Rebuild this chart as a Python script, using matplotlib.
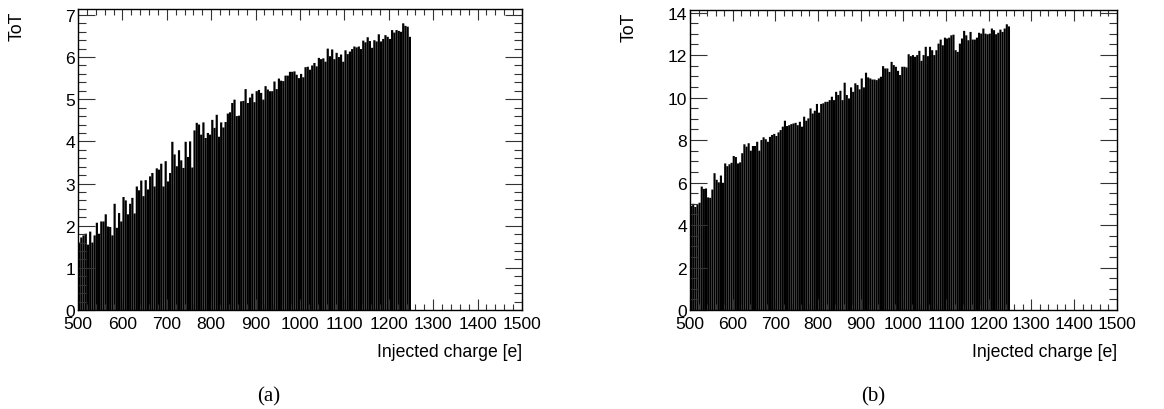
import numpy as np
import matplotlib
matplotlib.use("Agg")
import matplotlib.pyplot as plt
from matplotlib.ticker import MultipleLocator

# ---------------- data ----------------
bin_start = 500.0
bin_width = 5.0
x_range = (500, 1500)

tot_a = [
    1.6, 1.72, 1.77, 1.81, 1.55, 1.86, 1.6, 1.77, 2.07, 1.81,
    2.1, 2.1, 2.27, 1.98, 1.97, 1.77, 2.52, 1.95, 2.3, 2.1,
    2.68, 2.6, 2.27, 2.52, 2.66, 2.29,
    2.93, 2.84, 3.07, 2.7, 3.08, 2.86, 3.17, 3.25, 2.93, 3.36,
    3.33, 3.47, 2.93, 3.53, 3.05, 3.25, 3.99, 3.69, 3.41, 3.79,
    3.55, 3.37, 3.99, 3.63, 4.0, 3.38, 4.26, 4.44, 4.4, 4.16,
    4.45, 4.08, 4.2, 4.16, 4.51, 4.32, 4.63, 4.11, 4.45, 4.33,
    4.46, 4.66, 4.69, 4.91, 4.99, 4.6, 4.61, 4.95, 4.96, 5.24,
    4.91, 5.04, 5.13, 4.93, 5.19, 5.22, 5.15, 4.99, 5.31, 5.23,
    5.19, 5.19, 5.42, 5.24, 5.49, 5.44, 5.43, 5.56, 5.56, 5.65,
    5.65, 5.66, 5.58, 5.5,
    5.6, 5.52, 5.76, 5.77, 5.7, 5.8, 5.86, 5.78, 5.98, 5.95,
    5.97, 5.89, 6.2, 6.02, 6.18, 5.95, 6.1, 6.0, 6.06, 5.89,
    6.16, 6.07, 6.13, 6.19, 6.25, 6.23, 6.25, 6.19, 6.39, 6.35,
    6.47, 6.38, 6.22, 6.4, 6.37, 6.54, 6.37, 6.43, 6.52, 6.48,
    6.43, 6.64, 6.58, 6.64, 6.62, 6.6, 6.8, 6.74, 6.72, 6.48,
]

tot_b = [
    4.9, 5.0, 4.85, 4.95, 5.05,
    5.81, 5.7, 5.72, 5.3, 5.28, 5.67, 6.44, 6.13, 6.01, 6.33,
    5.99, 6.9, 6.77, 6.86, 6.93, 7.25, 7.2, 6.9, 6.95, 7.38,
    7.8, 7.69, 7.85, 7.5, 7.72, 7.72, 7.92, 7.5, 8.0, 8.13,
    8.04, 7.92, 8.15, 8.24, 8.29, 8.19, 8.36, 8.47, 8.63, 8.91,
    8.66, 8.7, 8.75, 8.78, 8.81, 8.7, 8.86, 8.63, 9.1, 8.91,
    9.02, 9.49, 9.25, 9.38, 9.7, 9.29, 9.7, 9.73, 9.8, 9.8,
    9.88, 10.04, 9.88, 10.27, 10.12, 10.32, 9.88, 10.7, 10.12, 9.96,
    10.48, 10.27, 10.67, 10.59, 10.39, 10.9, 10.48, 11.17, 10.95, 10.9,
    10.85, 10.85, 10.82, 10.9, 10.98, 11.48, 11.37, 11.37, 11.21, 11.68,
    11.53, 11.45, 11.26, 11.06, 11.45, 11.45, 11.42, 12.04, 11.95, 12.0,
    11.92, 12.0, 12.2, 11.73, 12.0, 12.39, 11.95, 12.39, 12.23, 12.0,
    12.23, 12.54, 12.73, 12.46, 12.82, 12.78, 12.82, 12.93, 12.96, 12.23,
    12.15, 12.54, 12.78, 13.14, 12.93, 12.7, 13.09, 12.73, 12.73, 12.82,
    13.05, 13.01, 13.25, 13.01, 12.98, 13.01, 13.25, 13.17, 12.98, 13.05,
    13.2, 13.09, 13.25, 13.45, 13.35,
]

x_label = "Injected charge [e]"
y_label = "ToT"
captions = ["(a)", "(b)"]
x_major = 100
x_minor = 20
y_majors = [1, 2]
y_minors = [0.2, 0.5]

# ---------------- figure ----------------
W, H = 1164, 410
fig = plt.figure(figsize=(W / 100, H / 100), dpi=100)
plt.rcParams["font.family"] = ["Liberation Sans", "DejaVu Sans"]

def fx(px):
    return px / W

def fy(py):
    return 1 - py / H

panels = [
    dict(vals=tot_a, rect=(78, 10, 522, 311), ymaj=y_majors[0], ymin=y_minors[0],
         cap=captions[0], capx=269),
    dict(vals=tot_b, rect=(690, 11, 1116.7, 311), ymaj=y_majors[1], ymin=y_minors[1],
         cap=captions[1], capx=873),
]

tick_fs = 12.6
for p in panels:
    l, t, r, b = p["rect"]
    ax = fig.add_axes([fx(l), fy(b), fx(r - l), (b - t) / H])
    vals = np.asarray(p["vals"])
    centers = bin_start + bin_width * (np.arange(len(vals)) + 0.5)
    bars = ax.bar(centers, vals, width=bin_width * 0.99, color="black",
                  edgecolor="none", linewidth=0)
    for rect in bars:
        rect.set_snap(False)
    ax.set_xlim(*x_range)
    ax.set_ylim(0, vals.max() * 1.05)
    ax.xaxis.set_major_locator(MultipleLocator(x_major))
    ax.xaxis.set_minor_locator(MultipleLocator(x_minor))
    ax.yaxis.set_major_locator(MultipleLocator(p["ymaj"]))
    ax.yaxis.set_minor_locator(MultipleLocator(p["ymin"]))
    ax.tick_params(axis="both", which="both", direction="in",
                   top=True, right=True, labelsize=tick_fs, width=0.8,
                   color="#333333")
    ax.tick_params(axis="x", which="major", length=8, pad=4)
    ax.tick_params(axis="x", which="minor", length=4)
    ax.tick_params(axis="y", which="major", length=12, pad=2)
    ax.tick_params(axis="y", which="minor", length=6)
    for s in ax.spines.values():
        s.set_linewidth(1.0)
        s.set_color("black")
    fig.text(fx(r), fy(353), x_label, ha="right", va="center", fontsize=12.7)
    fig.text(fx(l - 60.5), fy(t + 2), y_label, ha="center", va="top",
             rotation=90, fontsize=12.7)
    fig.text(fx(p["capx"]), fy(397), p["cap"], ha="center", va="center",
             fontsize=15, family=["Liberation Serif", "DejaVu Serif"])

fig.savefig("out.png", dpi=100)
